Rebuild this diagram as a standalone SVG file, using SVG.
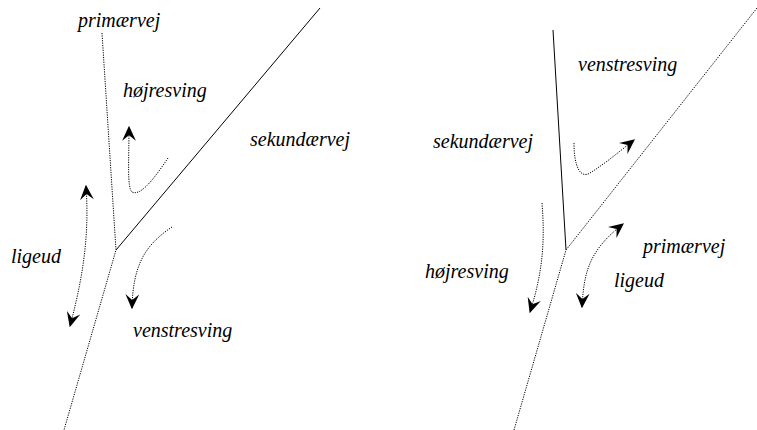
<svg xmlns="http://www.w3.org/2000/svg" width="757" height="430" viewBox="0 0 757 430">
<style>
.lbl{font-family:"Liberation Serif","Times New Roman",serif;font-style:italic;font-size:20px;fill:#000}
.dot{fill:none;stroke:#000;stroke-width:1;stroke-dasharray:1.2 1.2}
.solid{fill:none;stroke:#000;stroke-width:1}
.arr{fill:none;stroke:#000;stroke-width:1;stroke-dasharray:1.2 1.2}
</style>
<defs>
<marker id="ah" viewBox="0 0 12 12" refX="11" refY="6" markerWidth="15" markerHeight="15" markerUnits="userSpaceOnUse" orient="auto-start-reverse">
<path d="M0,0.5 L12,6 L0,11.5 L4.5,6 z" fill="#000"/>
</marker>
</defs>
<rect width="757" height="430" fill="#fff"/>
<g id="roads">
<path class="dot" d="M102,33 L116,250 L64,430"/>
<path class="solid" d="M116,250 L320,8"/>
<path class="solid" d="M553,30 L566,250"/>
<path class="dot" d="M757,8 L566,250 L514,430"/>
</g>
<g id="connectors">
<path class="arr" marker-end="url(#ah)" d="M168,158 C152,182 140,196 132,192 C127,188 129,160 129,127"/>
<path class="arr" marker-start="url(#ah)" marker-end="url(#ah)" d="M86,186 C89,230 85,270 70,326"/>
<path class="arr" marker-end="url(#ah)" d="M172,227 C145,245 133,265 132,308"/>
<path class="arr" marker-end="url(#ah)" d="M574,143 C574,166 580,179 590,173 C606,163 620,151 634,140"/>
<path class="arr" marker-end="url(#ah)" d="M542,203 C545,240 543,272 530,312"/>
<path class="arr" marker-start="url(#ah)" marker-end="url(#ah)" d="M582,307 C584,270 590,250 623,224"/>
</g>
<g id="l-primaervej"><text class="lbl" x="78" y="27">primærvej</text></g>
<g id="l-hojresving"><text class="lbl" x="123" y="97">højresving</text></g>
<g id="l-sekundaervej"><text class="lbl" x="250" y="146">sekundærvej</text></g>
<g id="l-ligeud"><text class="lbl" x="11" y="263">ligeud</text></g>
<g id="l-venstresving"><text class="lbl" x="133" y="337">venstresving</text></g>
<g id="r-venstresving"><text class="lbl" x="578" y="71">venstresving</text></g>
<g id="r-sekundaervej"><text class="lbl" x="433" y="148">sekundærvej</text></g>
<g id="r-primaervej"><text class="lbl" x="643" y="253">primærvej</text></g>
<g id="r-hojresving"><text class="lbl" x="425" y="278">højresving</text></g>
<g id="r-ligeud"><text class="lbl" x="614" y="287">ligeud</text></g>
</svg>
